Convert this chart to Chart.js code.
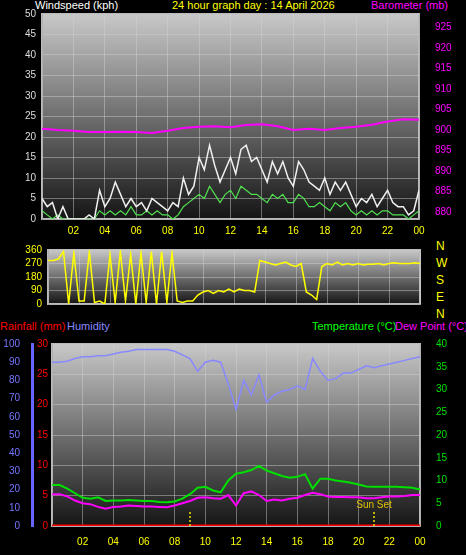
<!DOCTYPE html>
<html>
<head>
<meta charset="utf-8">
<script src="https://cdn.jsdelivr.net/npm/chart.js@4"></script>
<style>
body { margin:0; background:#000; width:466px; height:555px; overflow:hidden; position:relative; font-family:"Liberation Sans", Arial, sans-serif; }
canvas { position:absolute; left:0; }
.t { position:absolute; font-size:11px; white-space:nowrap; }
</style>
</head>
<body>
<div class="t" style="left:35px;top:-1px;color:#fff">Windspeed (kph)</div>
<div class="t" style="left:172px;top:-1px;color:#ff0">24 hour graph day : 14 April 2026</div>
<div class="t" style="left:371px;top:-1px;color:#f0f">Barometer (mb)</div>
<div class="t" style="left:436px;top:238px;color:#ff0;line-height:17px;font-size:12px">N<br>W<br>S<br>E<br>N</div>
<div class="t" style="left:0;top:320px;color:#f00">Rainfall (mm)</div>
<div class="t" style="left:67px;top:320px;color:#88f">Humidity</div>
<div class="t" style="left:312px;top:320px;color:#0f0">Temperature (°C)</div>
<div class="t" style="left:395px;top:320px;color:#f0f">Dew Point (°C)</div>
<canvas id="c1" width="466" height="240" style="top:0"></canvas>
<canvas id="c2" width="466" height="78" style="top:238px"></canvas>
<canvas id="c3" width="466" height="225" style="top:330px"></canvas>
<script>
// wind, every 20 minutes
const windGust = [5,3,4, 0,3,0, 0,0,0, 1,0,7, 3,5,9, 6,3,5, 3,4,2, 5,4,3, 2,4,3, 10,6,8,
  15,12,18, 13,9,12, 15,11,17, 18,14,15, 12,9,14, 11,14,10, 8,14,12, 9,8,7, 10,6,9,
  7,9,6, 3,5,4, 6,3,5, 7,4,3, 3,1,2, 7];
const windAvg = [2,1,0, 1,0,0, 0,0,0, 0,0,2, 1,2,1, 2,1,3, 1,1,2, 1,2,1, 1,0,1, 3,4,5,
  6,5,8, 6,4,6, 7,5,8, 7,6,6, 5,4,6, 5,6,4, 4,6,5, 3,3,4, 3,2,4, 3,4,2, 1,2,1, 2,1,2,
  2,1,1, 1,0,1, 2];
const windDir = [290,290,300, 350,0,340, 20,20,350, 10,20,0, 330,10,350, 20,330,0, 340,10,350,
  0,350,10, 340,20,10, 20,20,60, 80,90,70, 90,80,100, 80,100,90, 90,80,290, 280,270,260,
  270,280,260, 250,270,80, 60,30,250, 270,260,280, 260,270,260, 270,260,265, 265,270,260,
  270,275,270, 270,270,275, 270];
// hourly barometer
const baro = [900.3,900.0,899.8,899.5,899.5,899.6,899.5,899.3,899.8,900.5,900.8,900.9,900.7,
  901.2,901.4,900.9,900.0,900.3,900.0,900.5,900.8,901.3,902.1,902.6,902.5];
// half-hourly
const humidity = [90,90, 90.5,92, 93,93, 93.5,93.5, 94.5,95.5, 96,97, 97,97, 97,97, 96,94, 92,85,
  90,91, 90,78, 64,80, 72,83, 68,72, 74,75, 77,75, 92,85, 80,81, 84,84, 86,88, 87,88, 89,90, 91,92, 93];
const temperature = [9,9, 8.2,7.2, 6.2,6, 6.3,5.5, 5.6,5.6, 5.7,5.6, 5.5,5.5, 5.3,5.2, 5.4,6, 7,8.4,
  8.6,7.8, 7.4,10, 11.5,11.8, 12.3,13.2, 12.2,11.6, 11,10.6, 10.8,11.4, 8.2,10.4, 10.4,10, 9.8,9.5,
  9.1,8.7, 8.6,8.6, 8.6,8.6, 8.5,8.4, 8];
const dewPoint = [7,7, 6.5,5.6, 5,4.8, 4.2,3.8, 4.2,4.3, 4.5,4.4, 4.3,4.3, 4.2,4.1, 4.5,5, 5.5,6.2,
  6.3,6.1, 6,6.8, 4.5,7.2, 7.6,6.8, 5.5,5.8, 5.6,6, 6.2,6.8, 7.3,7, 6.5,6.4, 6.4,6.3, 6.3,6.1,
  6.1,6.3, 6.5,6.5, 6.6,6.8, 6.8];
const rainfall = [0, 0];
const rainHours = [0, 24];
const sunEvents = [9, 21];

const pts = (arr, step) => arr.map((v, i) => ({ x: i * step, y: v }));
const hourLabel = v => v === 0 ? '' : String(v % 24).padStart(2, '0');
const font = { family: '"Liberation Sans", Arial, sans-serif', size: 10 };
const grid = { color: 'rgba(210,210,210,0.45)', borderDash: [1, 2], drawTicks: false };
const fixW = w => function (s) { s.width = w; };
const fixH = h => function (s) { s.height = h; };

const bgPlugin = {
  id: 'bg',
  beforeDraw(chart) {
    const a = chart.chartArea, ctx = chart.ctx;
    const g = ctx.createLinearGradient(0, a.top, 0, a.bottom);
    g.addColorStop(0, '#c8c8c8');
    g.addColorStop(1, '#151515');
    ctx.save();
    ctx.fillStyle = g;
    ctx.fillRect(a.left, a.top, a.right - a.left, a.bottom - a.top);
    ctx.strokeStyle = '#bbb';
    ctx.lineWidth = 2;
    ctx.strokeRect(a.left, a.top, a.right - a.left, a.bottom - a.top);
    ctx.restore();
  }
};
const lineDs = (label, data, color, axis, width) => ({
  label, data, borderColor: color, borderWidth: width || 1.5, pointRadius: 0,
  tension: 0, yAxisID: axis
});
const base = {
  animation: false, responsive: false,
  plugins: { legend: { display: false }, tooltip: { enabled: false } }
};

// chart 1: wind + barometer
new Chart(document.getElementById('c1'), {
  type: 'line',
  data: { datasets: [
    lineDs('Barometer', pts(baro, 1), '#ff00ff', 'yB', 2),
    lineDs('Gust', pts(windGust, 1 / 3), '#f0f0f0', 'yW', 1.5),
    lineDs('Average', pts(windAvg, 1 / 3), '#50e050', 'yW', 1.2)
  ]},
  options: { ...base,
    layout: { padding: { top: 12 } },
    scales: {
      x: { type: 'linear', min: 0, max: 24, afterFit: fixH(21),
        ticks: { stepSize: 2, color: '#ff0', font, callback: hourLabel, padding: 6 }, grid },
      yW: { position: 'left', min: 0, max: 50, afterFit: fixW(42),
        ticks: { stepSize: 5, color: '#ddd', font, padding: 6 }, grid },
      yB: { position: 'right', min: 878.3, max: 928.3, afterFit: fixW(47),
        afterBuildTicks: s => { s.ticks = [880,885,890,895,900,905,910,915,920,925].map(v => ({ value: v })); },
        ticks: { color: '#ff00ff', font, padding: 8 }, grid: { display: false } }
    }
  },
  plugins: [bgPlugin]
});

// chart 2: wind direction
new Chart(document.getElementById('c2'), {
  type: 'line',
  data: { datasets: [ lineDs('Direction', pts(windDir, 1 / 3), '#ffff00', 'y', 1.5) ] },
  options: { ...base,
    layout: { padding: { top: 9, bottom: 6, right: 46 } },
    scales: {
      x: { type: 'linear', min: 0, max: 24, display: true, afterFit: fixH(0),
        ticks: { display: false, stepSize: 2 }, grid },
      y: { min: 0, max: 360, afterFit: fixW(48),
        ticks: { stepSize: 90, color: '#ff0', font, padding: 6 }, grid }
    }
  },
  plugins: [bgPlugin]
});

// chart 3: temperature, dew point, humidity, rainfall
const sunPlugin = {
  id: 'sun',
  afterDatasetsDraw(chart) {
    const ctx = chart.ctx, xs = chart.scales.x, y0 = chart.scales.yT.getPixelForValue(0);
    ctx.save();
    ctx.strokeStyle = '#f0e000';
    ctx.lineWidth = 1.5;
    ctx.setLineDash([2, 2]);
    sunEvents.forEach(h => {
      const px = xs.getPixelForValue(h);
      ctx.beginPath(); ctx.moveTo(px, y0); ctx.lineTo(px, y0 - 16); ctx.stroke();
    });
    ctx.fillStyle = '#e0c000';
    ctx.font = '10px "Liberation Sans", Arial';
    ctx.textAlign = 'center';
    ctx.fillText('Sun Set', xs.getPixelForValue(sunEvents[1]), y0 - 18);
    ctx.restore();
  }
};
new Chart(document.getElementById('c3'), {
  type: 'line',
  data: { datasets: [
    lineDs('Humidity', pts(humidity, 0.5), '#8888ff', 'yH', 1.5),
    lineDs('Temperature', pts(temperature, 0.5), '#00e000', 'yT', 2),
    lineDs('Dew Point', pts(dewPoint, 0.5), '#ff00ff', 'yT', 2),
    lineDs('Rainfall', rainHours.map((h, i) => ({ x: h, y: rainfall[i] })), '#ff0000', 'yR', 3)
  ]},
  options: { ...base,
    layout: { padding: { top: 12 } },
    scales: {
      x: { type: 'linear', min: 0, max: 24, afterFit: fixH(29),
        ticks: { stepSize: 2, color: '#ff0', font, callback: hourLabel, padding: 10 }, grid },
      yR: { position: 'left', min: 0, max: 30, afterFit: fixW(20),
        ticks: { stepSize: 5, color: '#ff0000', font, padding: 4 }, grid },
      yH: { position: 'left', min: 0, max: 100, afterFit: fixW(32),
        border: { color: '#6666ff', width: 3 },
        ticks: { stepSize: 10, color: '#7777ff', font, padding: 4 }, grid: { display: false } },
      yT: { position: 'right', min: 0, max: 40, afterFit: fixW(46),
        ticks: { stepSize: 5, color: '#00e000', font, padding: 8 }, grid: { display: false } }
    }
  },
  plugins: [bgPlugin, sunPlugin]
});
</script>
</body>
</html>
